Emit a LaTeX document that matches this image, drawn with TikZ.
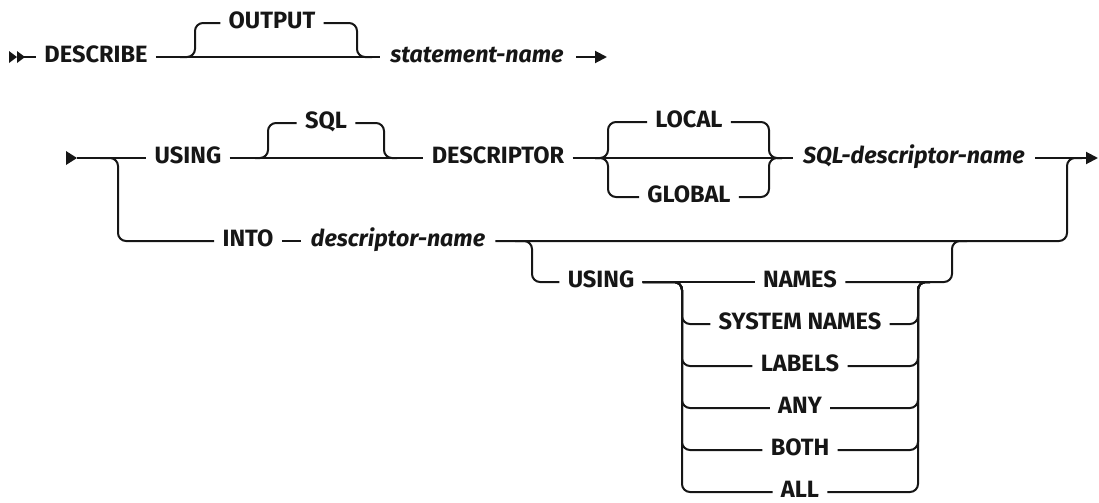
\documentclass[tikz,border=0pt]{standalone}
\usepackage{fontspec}
\setmainfont{Fira Sans}
\usepackage{tikz}
\usetikzlibrary{arrows.meta}
\definecolor{railblack}{RGB}{22,22,22}

\begin{document}
\begin{tikzpicture}[x=0.5pt, y=-0.5pt,
    kw/.style={anchor=mid, inner xsep=4pt, inner ysep=0pt, text=railblack,
      font=\fontsize{11.8}{14}\selectfont\bfseries},
    var/.style={kw, inner xsep=5pt, font=\fontsize{11.6}{14}\selectfont\bfseries\itshape},
    rail/.style={line width=1pt, railblack},
    railbend/.style={rail, rounded corners=4pt}]
        \useasboundingbox (0,0) rectangle (1099,503);

        % First line
        \coordinate (start1) at (17,57);
        \fill[railblack] (9,51) -- (17,57) -- (9,63) -- cycle;
        \fill[railblack] (17,51) -- (25,57) -- (17,63) -- cycle;
        \node[kw] (describe) at (96,57) {DESCRIBE};
        \node[kw] (output) at (272,23) {OUTPUT};
        \node[var] (stmt) at (477,57) {statement-name};
        \draw[rail] (start1) -- (describe.mid west);
        \draw[rail] (describe.mid east) -- (stmt.mid west);
        \draw[railbend] (180,57) -- (195,57) -- (195,23) -- (output.mid west);
        \draw[railbend] (output.mid east) -- (357,23) -- (357,57) -- (372,57);
        \coordinate (cont1) at (576,57);
        \coordinate (end1) at (607,57);
        \draw[rail, -{Triangle[length=6pt,width=6pt]}] (cont1) -- (end1);

        % Second line
        \coordinate (start2) at (77,158);
        \fill[railblack] (66,151) -- (77,158) -- (66,165) -- cycle;
        \node[kw] (using) at (188,158) {USING};
        \node[kw] (sql) at (326,123) {SQL};
        \node[kw] (descr) at (498,158) {DESCRIPTOR};
        \node[kw] (local) at (689,122) {LOCAL};
        \node[kw] (global) at (689,197) {GLOBAL};
        \node[var] (sqldn) at (914,158) {SQL-descriptor-name};
        \draw[rail] (start2) -- (using.mid west);
        \draw[rail] (using.mid east) -- (descr.mid west);
        \draw[railbend] (255,158) -- (268,158) -- (268,123) -- (sql.mid west);
        \draw[railbend] (sql.mid east) -- (384,123) -- (384,158) -- (397,158);
        \draw[rail] (descr.mid east) -- (sqldn.mid west);
        \draw[railbend] (595,158) -- (608,158) -- (608,122) -- (local.mid west);
        \draw[railbend] (595,158) -- (608,158) -- (608,197) -- (global.mid west);
        \draw[railbend] (local.mid east) -- (769,122) -- (769,158) -- (782,158);
        \draw[railbend] (global.mid east) -- (769,197) -- (769,158) -- (782,158);
        \coordinate (end2) at (1098,158);
        \draw[rail, -{Triangle[length=6pt,width=6pt]}] (sqldn.mid east) -- (end2);

        % INTO branch
        \node[kw] (into) at (248,241) {INTO};
        \node[var] (dname) at (398,241) {descriptor-name};
        \draw[railbend] (100,158) -- (118,158) -- (118,241) -- (into.mid west);
        \draw[rail] (into.mid east) -- (dname.mid west);
        \draw[railbend] (dname.mid east) -- (1067,241) -- (1067,158) -- (1082,158);

        % USING options
        \node[kw] (using2) at (601,282) {USING};
        \node[kw] (names) at (800,282) {NAMES};
        \draw[railbend] (515,241) -- (532,241) -- (532,282) -- (using2.mid west);
        \draw[rail] (using2.mid east) -- (names.mid west);
        \draw[railbend] (names.mid east) -- (952,282) -- (952,241) -- (967,241);
        \foreach \nm/\lbl/\yy in {sysnames/SYSTEM NAMES/324, labels/LABELS/366,
            any/ANY/408, both/BOTH/450, all/ALL/492} {
          \node[kw] (\nm) at (800,\yy) {\lbl};
          \draw[railbend] (using2.mid east) -- (682,282) -- (682,\yy) -- (\nm.mid west);
          \draw[railbend] (\nm.mid east) -- (918,\yy) -- (918,282) -- (930,282);
        }
      \end{tikzpicture}
\end{document}
